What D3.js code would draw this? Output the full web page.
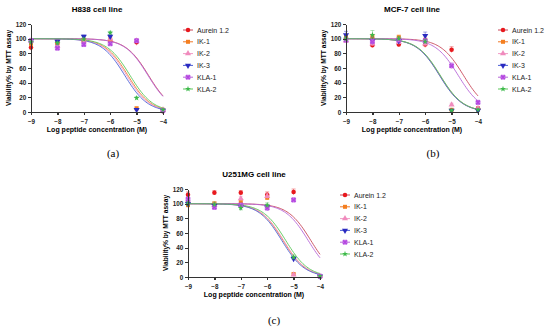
<html>

<head>
    <meta charset="utf-8">
    <title>MTT viability curves</title>
    <style>
        body { margin: 0; background: #fff; }
        text { font-family: Arial, "Liberation Sans", sans-serif; }
        .axis path, .axis line { stroke: #333; stroke-width: 1.3; shape-rendering: crispEdges; }
        .axis text { font-size: 6.3px; font-weight: bold; fill: #222; }
    </style>
    <script src="https://cdn.jsdelivr.net/npm/d3@7"></script>
</head>

<body>
</body>
<script>
    // log concentrations and series names
    var doses = [-9, -8, -7, -6, -5, -4];
    var seriesNames = ["Aurein 1.2", "IK-1", "IK-2", "IK-3", "KLA-1", "KLA-2"];
    var seriesColors = ["#e8191e", "#f47f20", "#f08bbd", "#2a2ac0", "#b447e0", "#3cb94a"];
    var curveColors = ["#c9485a", "#f07a2a", "#f29ac6", "#4b5fd6", "#b766d8", "#5cc85a"];
    var yTicks = [0, 20, 40, 60, 80, 100, 120];

    // mean viability per series (rows) at each dose (columns)
    var h838Values = [
        [88, 93, 96, 97, 95, 1],
        [93, 95, 98, 98, 5, 3],
        [97, 90, 97, 100, 97, 3],
        [97, 96, 103, 103, 3, 2],
        [97, 87, 92, 93, 97, 2],
        [95, 94, 99, 108, 19, 3]
    ];
    var h838Errors = [
        [4, 3, 4, 4, 4, 1], [3, 3, 4, 4, 2, 1], [3, 3, 3, 3, 3, 1],
        [2, 2, 2, 3, 1, 1], [3, 3, 3, 3, 3, 1], [2, 2, 2, 2, 2, 1]
    ];
    var h838LogIC50 = [-4.55, -5.33, -5.38, -5.45, -4.57, -5.25];

    var mcf7Values = [
        [100, 91, 92, 92, 85, 5],
        [103, 103, 102, 98, 3, 3],
        [97, 93, 95, 93, 10, 5],
        [105, 97, 97, 104, 2, 2],
        [98, 96, 98, 97, 63, 13],
        [100, 105, 100, 96, 2, 3]
    ];
    var mcf7Errors = [
        [3, 3, 3, 4, 4, 2], [3, 3, 3, 3, 1, 1], [3, 3, 3, 3, 2, 2],
        [5, 4, 3, 5, 1, 1], [3, 3, 3, 3, 4, 3], [3, 6, 3, 3, 1, 1]
    ];
    var mcf7LogIC50 = [-4.55, -5.45, -5.44, -5.46, -4.75, -5.43];

    var u251Values = [
        [112, 115, 115, 112, 116, 1],
        [98, 100, 102, 108, 4, 1],
        [104, 98, 107, 110, 3, 1],
        [100, 97, 96, 95, 25, 1],
        [106, 95, 98, 94, 105, 1],
        [100, 99, 94, 98, 27, 1]
    ];
    var u251Errors = [
        [4, 3, 3, 4, 4, 1], [3, 3, 3, 3, 1, 1], [3, 3, 3, 4, 2, 1],
        [3, 3, 3, 3, 3, 1], [3, 3, 3, 3, 3, 1], [3, 3, 4, 3, 3, 1]
    ];
    var u251LogIC50 = [-4.35, -5.4, -5.38, -5.45, -4.45, -5.3];

    var panels = [
        { title: "H838 cell line", label: "(a)", values: h838Values, errors: h838Errors, ic50: h838LogIC50,
          left: 31, top: 24, capX: 113, capY: 157 },
        { title: "MCF-7 cell line", label: "(b)", values: mcf7Values, errors: mcf7Errors, ic50: mcf7LogIC50,
          left: 346, top: 24, capX: 433, capY: 157 },
        { title: "U251MG cell line", label: "(c)", values: u251Values, errors: u251Errors, ic50: u251LogIC50,
          left: 188, top: 189, capX: 274, capY: 324 }
    ];

    var width = 132, height = 88;

    var svg = d3.select("body").append("svg")
        .attr("width", 550)
        .attr("height", 330);

    var symbolTypes = [d3.symbolCircle, d3.symbolSquare, d3.symbolTriangle, d3.symbolTriangle, d3.symbolSquare, d3.symbolStar];

    function drawMarker(g, i, size) {
        var s = g.append("g");
        if (i == 3) {
            s.append("path").attr("d", d3.symbol().type(d3.symbolTriangle).size(size)())
                .attr("transform", "rotate(180)").attr("fill", seriesColors[i]);
        } else if (i == 4) {
            s.append("path").attr("d", d3.symbol().type(d3.symbolSquare).size(size)())
                .attr("fill", "#e6b4f2").attr("stroke", seriesColors[i]).attr("stroke-width", 0.6);
            s.append("path").attr("d", d3.symbol().type(d3.symbolCross).size(size * 0.9)())
                .attr("transform", "rotate(45)").attr("fill", seriesColors[i]);
        } else {
            s.append("path").attr("d", d3.symbol().type(symbolTypes[i]).size(size)())
                .attr("fill", seriesColors[i]);
        }
        return s;
    }

    panels.forEach(function(p) {
        var x = d3.scaleLinear().domain([-9, -4]).range([0, width]);
        var y = d3.scaleLinear().domain([0, 120]).range([height, 0]);

        var g = svg.append("g")
            .attr("transform", "translate(" + p.left + "," + p.top + ")");

        svg.append("text")
            .attr("x", p.left + width / 2)
            .attr("y", p.top - 12)
            .attr("text-anchor", "middle")
            .style("font-size", "8px")
            .style("font-weight", "bold")
            .text(p.title);

        // fitted dose-response curves (top 100, bottom 0, Hill slope -1)
        var line = d3.line()
            .x(function(d) { return x(d[0]); })
            .y(function(d) { return y(d[1]); });
        var xs = d3.range(-9, -3.999, 0.05);
        p.ic50.forEach(function(c, i) {
            var pts = xs.map(function(v) {
                return [v, 100 / (1 + Math.pow(10, v - c))];
            });
            g.append("path")
                .attr("d", line(pts))
                .attr("fill", "none")
                .attr("stroke", curveColors[i])
                .attr("stroke-width", 1)
                .attr("opacity", 0.9);
        });

        // error bars and points
        p.values.forEach(function(row, i) {
            row.forEach(function(v, j) {
                var e = p.errors[i][j];
                var cx = x(doses[j]);
                g.append("line")
                    .attr("x1", cx).attr("x2", cx)
                    .attr("y1", y(v - e)).attr("y2", y(v + e))
                    .attr("stroke", seriesColors[i]).attr("stroke-width", 0.7).attr("opacity", 0.6);
                g.append("line")
                    .attr("x1", cx - 2).attr("x2", cx + 2)
                    .attr("y1", y(v + e)).attr("y2", y(v + e))
                    .attr("stroke", seriesColors[i]).attr("stroke-width", 0.7).attr("opacity", 0.6);
                drawMarker(g, i, i == 5 ? 11 : 16)
                    .attr("transform", "translate(" + cx + "," + y(v) + ")");
            });
        });

        g.append("g")
            .attr("class", "axis")
            .attr("transform", "translate(0," + height + ")")
            .call(d3.axisBottom(x).tickValues(doses).tickSize(3).tickSizeOuter(0).tickFormat(d3.format("d")))
            .selectAll("text").attr("dy", "0.9em");

        g.append("g")
            .attr("class", "axis")
            .call(d3.axisLeft(y).tickValues(yTicks).tickSize(3).tickSizeOuter(0))
            .selectAll("text").attr("dx", "0.2em");

        g.append("text")
            .attr("x", width / 2)
            .attr("y", height + 20)
            .attr("text-anchor", "middle")
            .style("font-size", "7px")
            .style("font-weight", "bold")
            .text("Log peptide concentration (M)");

        g.append("text")
            .attr("transform", "translate(-20.5," + (height / 2) + ") rotate(-90)")
            .attr("text-anchor", "middle")
            .style("font-size", "6.6px")
            .style("font-weight", "bold")
            .text("Viability% by MTT assay");

        // legend
        var lg = g.append("g")
            .attr("transform", "translate(" + (width + 25) + ",6)");
        seriesNames.forEach(function(name, i) {
            var row = lg.append("g").attr("transform", "translate(0," + (i * 11.8) + ")");
            row.append("line")
                .attr("x1", -5).attr("x2", 5)
                .attr("stroke", curveColors[i]).attr("stroke-width", 1);
            drawMarker(row, i, i == 5 ? 11 : 16);
            row.append("text")
                .attr("x", 9)
                .attr("y", 2.5)
                .style("font-size", "7px")
                .style("fill", "#222")
                .text(name);
        });

        svg.append("text")
            .attr("x", p.capX)
            .attr("y", p.capY)
            .attr("text-anchor", "middle")
            .style("font-family", "'Liberation Serif', 'Times New Roman', serif")
            .style("font-size", "11px")
            .text(p.label);
    });
</script>

</html>
